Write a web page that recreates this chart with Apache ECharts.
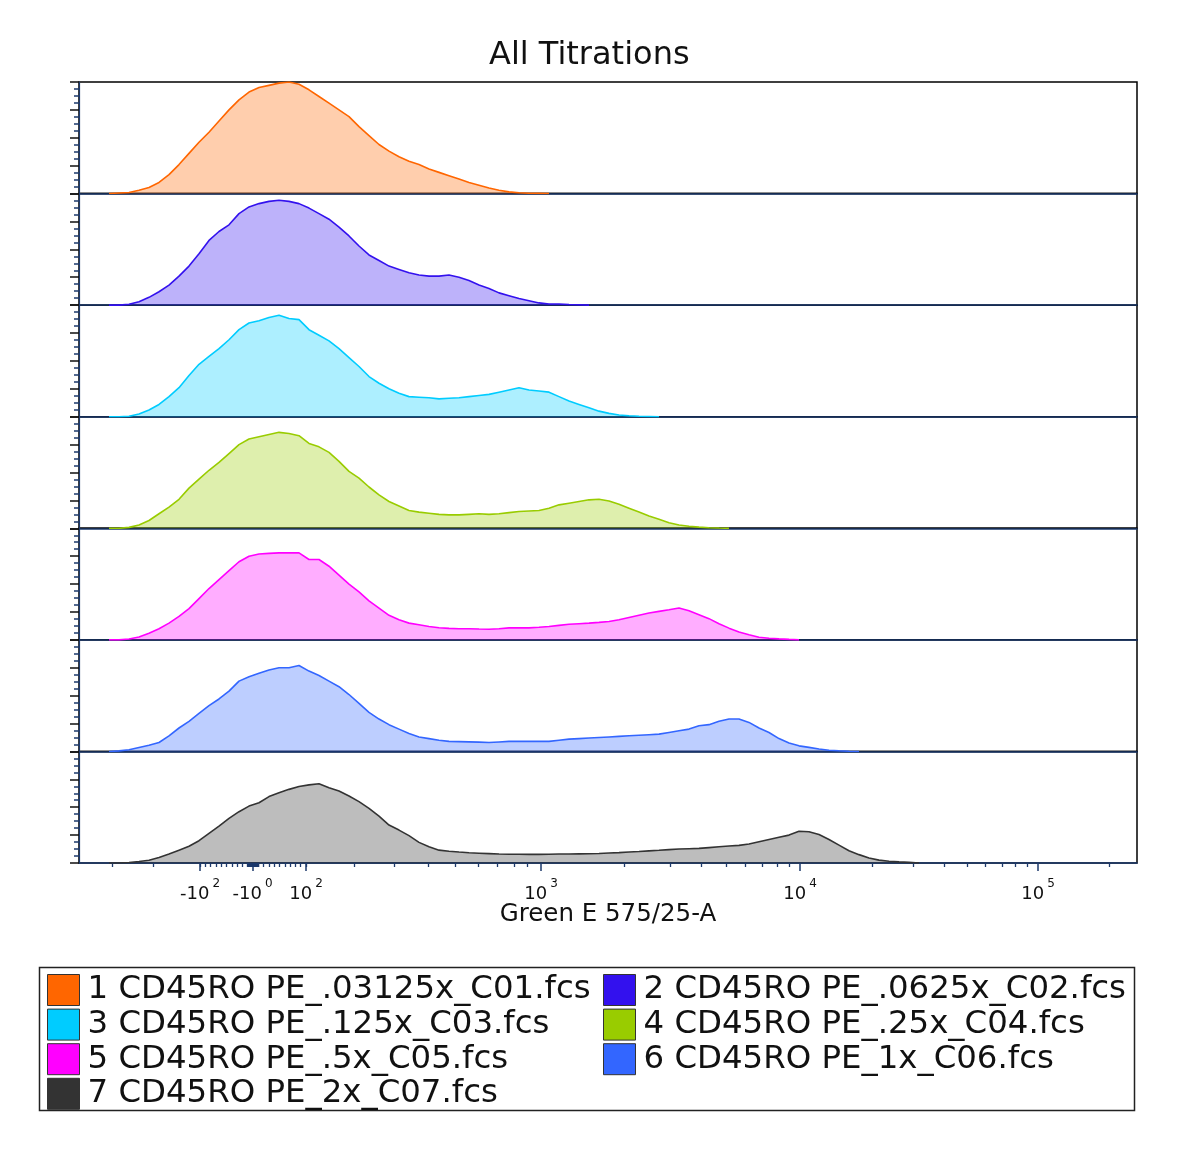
<!DOCTYPE html>
<html>
<head>
<meta charset="utf-8">
<title>All Titrations</title>
<script src="https://cdn.jsdelivr.net/npm/echarts@6/dist/echarts.min.js"></script>
<style>
  html, body { margin: 0; padding: 0; background: #fff; }
  #main { width: 1200px; height: 1160px; }
</style>
</head>
<body>
<div id="main"></div>
<script>
// histogram bins, in display channels along the biex axis
const binStart = 30;
const binStep = 10;

// % of mode per bin, one array per tube
const c01 = [0,0.5,1,3,5.5,10,17,26,36,46,55,65,75,84,91,95,97,99,100,98,93,87,81,75,69,60,52,44,38,33,29,26,22,19,16,13,10,7.5,5,3,1.5,0.7,0.3,0.2,0];
const c02 = [0,0,0.8,3,7,12,18,26,35,46,58,66,72,82,88,91,93,94,93,91,87,82,77,70,62,53,45,40,35,32,29,27,26,26,27,25,22,18,15,11,8.5,6,4,2,1,1,0.6,0.3,0];
const c03 = [0,0,0.4,2.5,6,11,18,26,37,47,54,61,69,78,84,86,89,91,88,87,78,73,68,61,53,45,36,30,25,21,18,17.5,17,16,16.5,17,18,19,20,22,24,26,24,23,22,18,14,11,8,5,3,1.6,0.8,0.4,0.2,0];
const c04 = [0,0,0.8,3,7,13,19,26,36,44,52,59,67,75,80,82,84,86,85,83,76,73,68,60,51,45,37,30,24,20,16,14.5,13.5,12.5,12,12,12.5,13,12.5,13,14,15,15.5,16,18,21,22.5,24,25.5,26,24.5,21.5,18,14.5,11,8,5,3,1.8,1,0.5,0.2,0];
const c05 = [0,0,0.8,2.5,6,10,15,21,28,37,46,54,62,70,75,77,77.5,78,78,78,72,72,66,58,50,43,35,28.5,22,18,15,13.5,12,10.8,10.3,10,10,9.7,9.5,10,10.7,10.7,10.7,11.3,12,13,14,14.5,15,15.7,16.5,18,20,22,24,25.5,27,28.6,26,22.5,19,14.5,10.5,7,4.5,2.4,1.5,0.9,0.4,0];
const c06 = [0,0.5,1.5,3.5,5.5,8,14,21,27,34,41,47,54,63,67,70,73,75,75,77,72,68,63,58,51,43,35,29,24,20,16,13,11.5,10,9,8.8,8.6,8.3,8,8.5,9,9,9,9,9,10,11,11.5,12,12.5,13,13.5,14,14.5,15,15.5,17,18.5,20,23,24,27,29,29,26,21,17,11.5,7.5,5,3.6,2.2,1.1,0.6,0.2,0];
const c07 = [0,0,0.5,1.3,2.5,5,8,11.5,15,20,26.5,33,40,46,51,54,59.5,63,66,68.5,70,71,67.5,64.5,60,55,49,42,34,29.5,24.5,18.5,14.5,11.5,10.5,9.8,9.2,8.8,8.4,8,7.9,7.8,7.7,7.7,7.8,8,8.1,8.2,8.3,8.5,8.9,9.3,9.8,10.3,10.9,11.4,12,12.5,12.8,13.1,13.8,14.5,15.2,15.8,17,19,21,23,25,28.5,28,25.5,21,16,11,7.5,4.5,2.6,1.6,1,0.6,0];

const tubeNames = [
  '1 CD45RO PE_.03125x_C01.fcs',
  '2 CD45RO PE_.0625x_C02.fcs',
  '3 CD45RO PE_.125x_C03.fcs',
  '4 CD45RO PE_.25x_C04.fcs',
  '5 CD45RO PE_.5x_C05.fcs',
  '6 CD45RO PE_1x_C06.fcs',
  '7 CD45RO PE_2x_C07.fcs'
];
const tubeData = [c01, c02, c03, c04, c05, c06, c07];
const tubeColors = ['#ff6600', '#3311ee', '#00ccff', '#99cc00', '#ff00ff', '#3366ff', '#333333'];

// x axis (display channels 0..1058)
const channelMax = 1058;
const decadeChannels = [121, 173.5, 227, 462, 721, 959];
const decadeBase = ['-10', '-10', '10', '10', '10', '10'];
const decadeExp = ['2', '0', '2', '3', '4', '5'];
const logTickChannels = [33, 74, 275, 315, 349, 376, 399, 418, 435, 448, 545, 591, 622, 647, 666.5, 683.5, 698, 710, 793, 834.5, 865, 888, 906.5, 923, 936.6, 948, 1030];
// linear part of the biex scale, around zero
const linearTickValues = [-100,-90,-80,-70,-60,-50,-40,-30,-20,-10,-9,-8,-7,-6,-5,-4,-3,-2,-1,0,1,2,3,4,5,6,7,8,9,10,20,30,40,50,60,70,80,90,100];
const linearZero = 174;
const linearScale = 0.53;

const navy = '#1d3a6c';
const font = 'DejaVu Sans, Verdana, sans-serif';

const chart = echarts.init(document.getElementById('main'), null, { renderer: 'canvas' });

const plotTop = 82;
const plotHeight = 781;
const rowH = plotHeight / tubeNames.length;

const minorTicks = logTickChannels.concat(linearTickValues.map(v => linearZero + v * linearScale));

const grids = [];
const xAxes = [];
const yAxes = [];
const series = [];

tubeNames.forEach((name, i) => {
  const last = i === tubeNames.length - 1;
  grids.push({
    left: 79, width: 1058, top: plotTop + i * rowH, height: rowH,
    show: true, borderColor: '#000', borderWidth: 1.5, backgroundColor: 'transparent'
  });
  xAxes.push({
    gridIndex: i, type: 'value', min: 0, max: channelMax, position: 'bottom',
    axisLine: { show: true, lineStyle: { color: navy, width: 1.5 } },
    axisTick: last ? {
      show: true, customValues: decadeChannels, length: 8, inside: false,
      lineStyle: { color: navy, width: 1.5 }
    } : { show: false },
    axisLabel: last ? {
      show: true, customValues: decadeChannels, margin: 21,
      formatter: v => {
        const k = decadeChannels.indexOf(v);
        return k < 0 ? '' : '{b|' + decadeBase[k] + '}{s|' + decadeExp[k] + '}';
      },
      rich: {
        b: { fontFamily: font, fontSize: 18, color: '#111', lineHeight: 20 },
        s: { fontFamily: font, fontSize: 12, color: '#111', lineHeight: 13, padding: [0, 0, 20, 3] }
      }
    } : { show: false },
    splitLine: { show: false },
    name: last ? 'Green E 575/25-A' : '',
    nameLocation: 'middle',
    nameGap: 39,
    nameMoveOverlap: false,
    nameTextStyle: { fontFamily: font, fontSize: 24.5, color: '#111' }
  });
  yAxes.push({
    gridIndex: i, type: 'value', min: 0, max: 100, interval: 25,
    axisLine: { show: true, lineStyle: { color: navy, width: 1.2 } },
    axisTick: { show: true, length: 9, lineStyle: { color: '#111', width: 1.5 } },
    minorTick: { show: true, splitNumber: 4, length: 5, lineStyle: { color: navy, width: 1.5 } },
    axisLabel: { show: false },
    splitLine: { show: false }
  });
  series.push({
    name, type: 'line', xAxisIndex: i, yAxisIndex: i,
    data: tubeData[i].map((v, k) => [binStart + k * binStep, v]),
    showSymbol: false, symbol: 'none', silent: true,
    lineStyle: { color: tubeColors[i], width: 1.6 },
    itemStyle: { color: tubeColors[i] },
    areaStyle: { color: tubeColors[i], opacity: 0.32 },
    z: 3
  });
});

// short ticks of the bottom axis
xAxes.push({
  gridIndex: tubeNames.length - 1, type: 'value', min: 0, max: channelMax, position: 'bottom', offset: 0,
  axisLine: { show: false },
  axisTick: { show: true, customValues: minorTicks, length: 4, lineStyle: { color: navy, width: 1.3 } },
  axisLabel: { show: false },
  splitLine: { show: false }
});

const legendBase = {
  orient: 'vertical', icon: 'rect', itemWidth: 32, itemHeight: 31, itemGap: 2.6,
  padding: 0, selectedMode: false,
  itemStyle: { borderColor: '#333', borderWidth: 1 },
  textStyle: { fontFamily: font, fontSize: 32.4, color: '#111', lineHeight: 31, padding: [0, 0, 0, 3] }
};

chart.setOption({
  animation: false,
  backgroundColor: '#fff',
  title: {
    text: 'All Titrations', left: 484, top: 35,
    textStyle: { fontFamily: font, fontSize: 32, fontWeight: 'normal', color: '#111' }
  },
  legend: [
    Object.assign({}, legendBase, { left: 47, top: 974, data: [tubeNames[0], tubeNames[2], tubeNames[4], tubeNames[6]] }),
    Object.assign({}, legendBase, { left: 603, top: 974, data: [tubeNames[1], tubeNames[3], tubeNames[5]] })
  ],
  graphic: [{
    type: 'rect', left: 37, top: 965, silent: true,
    shape: { width: 1095, height: 143 },
    style: { fill: 'none', stroke: '#222', lineWidth: 1.5 }
  }],
  grid: grids,
  xAxis: xAxes,
  yAxis: yAxes,
  series
});
</script>
</body>
</html>
